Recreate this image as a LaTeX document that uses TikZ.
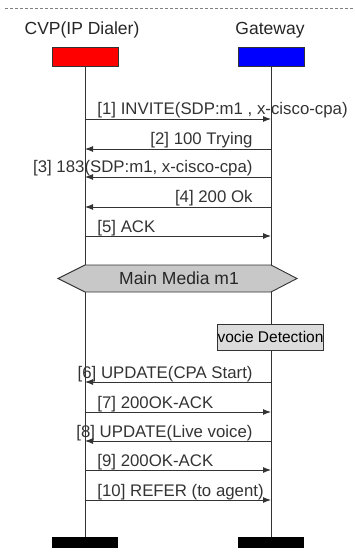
\documentclass[tikz,border=0pt]{standalone}
\usepackage{fontspec}
\setmainfont{Liberation Sans}
\usetikzlibrary{arrows.meta,positioning}
\definecolor{cvpred}{HTML}{FF0000}
\definecolor{gwblue}{HTML}{0000FF}
\definecolor{linegray}{HTML}{333333}
\definecolor{mediagray}{HTML}{C8C8C8}
\definecolor{notegray}{HTML}{DCDCDC}
\tikzset{
  actorbox/.style={
    draw=black!80,
    thick,
    minimum width=66pt,
    minimum height=19pt,
    inner sep=0pt
  },
  endbar/.style={
    fill=black,
    minimum width=66pt,
    minimum height=11pt,
    inner sep=0pt
  },
  actorname/.style={font=\fontsize{17.5}{20}\selectfont,text=black!85},
  lifeline/.style={draw=linegray,line width=0.9pt},
  msg/.style={-{Latex[length=8pt,width=6pt]},draw=linegray,line width=0.9pt},
  lblright/.style={pos=0,anchor=base west,xshift=12pt,yshift=4pt,inner sep=0pt,
    font=\fontsize{16.8}{19}\selectfont,text=black!80},
  lblleft/.style={pos=0,anchor=base east,xshift=-18pt,yshift=4pt,inner sep=0pt,
    font=\fontsize{16.8}{19}\selectfont,text=black!80},
  notebox/.style={draw=black!80,thick,fill=notegray,minimum width=105pt,
    minimum height=26pt,inner sep=0pt,font=\fontsize{15.5}{17}\selectfont}
}

\begin{document}
\begin{tikzpicture}[x=1pt,y=-1pt]
  \useasboundingbox (0,0) rectangle (355,553);
  \draw[gray,densely dashed] (5,8) -- (355,8);

  \node[actorname] (cvpname) at (82,30) {CVP(IP Dialer)};
  \node[actorname] (gwname) at (270,30) {Gateway};
  \node[actorbox,fill=cvpred] (cvp) at (85,56.5) {};
  \node[actorbox,fill=gwblue] (gw) at (271,56.5) {};
  \node[endbar] (cvpend) at (85,542.5) {};
  \node[endbar] (gwend) at (271,542.5) {};

  \draw[lifeline] (cvp.south) -- (cvpend.north);
  \draw[lifeline] (gw.south) -- (gwend.north);

  \foreach \n/\y in {1/119,2/149,3/177,4/207,5/236,6/382,7/412,8/441,9/470,10/500}{
    \coordinate (c\n) at (85,\y);
    \coordinate (g\n) at (271,\y);
  }

  \draw[msg] (c1) -- (g1) node[lblright] {[1] INVITE(SDP:m1 , x-cisco-cpa)};
  \draw[msg] (g2) -- (c2) node[lblleft] {[2] 100 Trying};
  \draw[msg] (g3) -- (c3) node[lblleft] {[3] 183(SDP:m1, x-cisco-cpa)};
  \draw[msg] (g4) -- (c4) node[lblleft] {[4] 200 Ok};
  \draw[msg] (c5) -- (g5) node[lblright] {[5] ACK};

  \coordinate (mw) at (58,278.5);
  \coordinate (me) at (297,278.5);
  \draw[linegray,line width=0.9pt,fill=mediagray] (mw) -- (85,265) -- (271,265) -- (me)
    -- (271,292) -- (85,292) -- cycle;
  \node[font=\fontsize{17.5}{20}\selectfont,text=black!85] (media) at (179,278.5) {Main Media m1};

  \node[notebox] (detect) at (270.5,337) {vocie Detection};

  \draw[msg] (g6) -- (c6) node[lblleft] {[6] UPDATE(CPA Start)};
  \draw[msg] (c7) -- (g7) node[lblright] {[7] 200OK-ACK};
  \draw[msg] (g8) -- (c8) node[lblleft] {[8] UPDATE(Live voice)};
  \draw[msg] (c9) -- (g9) node[lblright] {[9] 200OK-ACK};
  \draw[msg] (c10) -- (g10) node[lblright] {[10] REFER (to agent)};
\end{tikzpicture}
\end{document}
